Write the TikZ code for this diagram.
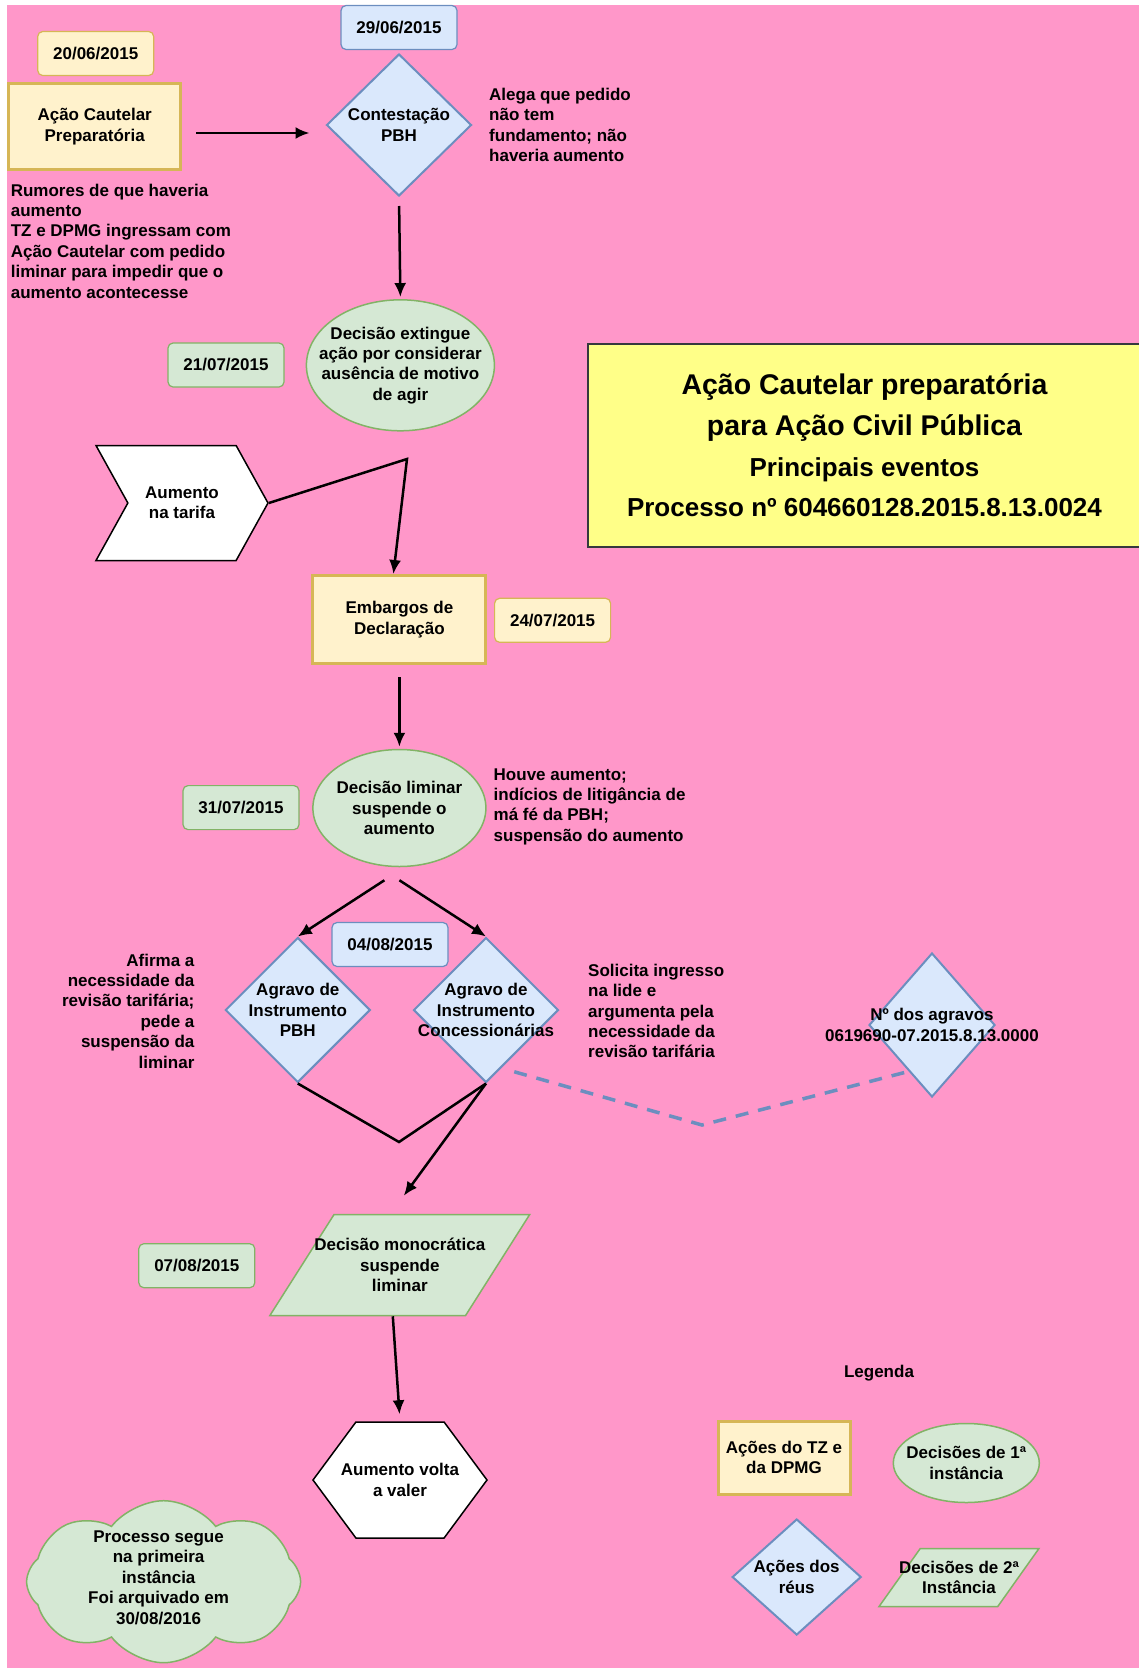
\documentclass[tikz,border=0pt]{standalone}
\usepackage{fontspec}
\setmainfont{Liberation Sans}
\usepackage{tikz}
\usetikzlibrary{arrows.meta}
\usetikzlibrary{shapes.geometric, shapes.symbols}
\tikzset{>={Latex[width=12pt,length=14pt]}}

\definecolor{fundo}{HTML}{FF97C9}
\definecolor{amarelo}{HTML}{FFF2CC}
\definecolor{ouro}{HTML}{D6B656}
\definecolor{azul}{HTML}{DAE8FC}
\definecolor{azulborda}{HTML}{6C8EBF}
\definecolor{verde}{HTML}{D5E8D4}
\definecolor{verdeborda}{HTML}{82B366}
\definecolor{titulo}{HTML}{FFFF88}
\definecolor{cinza}{HTML}{36393D}

\newcommand{\txtfont}{\bfseries\fontsize{17}{20.4}\selectfont}

\tikzset{
  txt/.style={font=\txtfont, align=center, inner sep=0pt},
  nota/.style={font=\txtfont, inner sep=0pt},
  data/.style={rectangle, rounded corners=5pt, line width=1.2pt, minimum width=116pt, minimum height=44pt, font=\txtfont},
  datay/.style={data, draw=ouro, fill=amarelo},
  datab/.style={data, draw=azulborda, fill=azul},
  datag/.style={data, draw=verdeborda, fill=verde},
  tz/.style={rectangle, draw=ouro, fill=amarelo, line width=3pt, font=\txtfont, align=center},
  reu/.style={diamond, draw=azulborda, fill=azul, line width=2pt, inner sep=1pt},
  dec1/.style={ellipse, draw=verdeborda, fill=verde, line width=1.5pt, inner sep=1pt},
  dec2/.style={trapezium, trapezium stretches=true, draw=verdeborda, fill=verde, line width=1.5pt, inner sep=3pt},
  evento/.style={signal, draw=black, fill=white, line width=1.5pt, inner sep=2pt},
  seta/.style={->, line width=2.5pt},
  linha/.style={line width=2.5pt},
  tracejado/.style={draw=azulborda, line width=3.5pt, dash pattern=on 13pt off 10pt},
}

\begin{document}
\begin{tikzpicture}[x=1pt,y=-1pt]
  \useasboundingbox (0,0) rectangle (1139,1668);
  \fill[fundo] (6.5,5) rectangle (1139,1668);

  % datas
  \node[datay] (d1) at (95.7,53.5) {20/06/2015};
  \node[datab] (d2) at (399,27.5) {29/06/2015};
  \node[datag] (d3) at (226,365) {21/07/2015};
  \node[datay] (d4) at (552.6,620.3) {24/07/2015};
  \node[datag] (d5) at (241,807.6) {31/07/2015};
  \node[datab] (d6) at (390,944.5) {04/08/2015};
  \node[datag] (d7) at (196.8,1265.7) {07/08/2015};

  % eventos
  \node[tz, minimum width=172pt, minimum height=86pt] (acao) at (94.7,126.5) {Ação Cautelar\\Preparatória};
  \node[reu, minimum width=145pt, minimum height=142pt, label={[txt]center:Contestação\\PBH}] (contest) at (399,125) {};
  \node[dec1, minimum width=188pt, minimum height=131pt, label={[txt]center:Decisão extingue\\ação por considerar\\ausência de motivo\\de agir}] (extingue) at (400.4,365.3) {};
  \node[evento, signal from=west, signal to=east, signal pointer angle=122, minimum width=172pt, minimum height=115pt, label={[txt]center:Aumento\\na tarifa}] (aumento) at (182,503) {};
  \node[tz, minimum width=173pt, minimum height=88pt] (embargos) at (399.4,619.5) {Embargos de\\Declaração};
  \node[dec1, minimum width=173pt, minimum height=117pt, label={[txt]center:Decisão liminar\\suspende o\\aumento}] (liminar) at (399.4,808) {};
  \node[reu, minimum width=145pt, minimum height=145pt, label={[txt]center:Agravo de\\Instrumento\\PBH}] (agpbh) at (297.8,1010) {};
  \node[reu, minimum width=145pt, minimum height=145pt, label={[txt]center:Agravo de\\Instrumento\\Concessionárias}] (agconc) at (486,1010) {};
  \node[reu, minimum width=126pt, minimum height=144pt, label={[txt]center:Nº dos agravos\\0619690-07.2015.8.13.0000}] (agnum) at (932,1025) {};
  \node[dec2, trapezium left angle=64, trapezium right angle=116, minimum width=260pt, minimum height=101pt, label={[txt]center:Decisão monocrática\\suspende\\liminar}] (mono) at (399.8,1265) {};
  \node[evento, signal to=east and west, signal from=nowhere, signal pointer angle=107, minimum width=174pt, minimum height=116pt, label={[txt]center:Aumento volta\\a valer}] (volta) at (400,1480) {};
  \node[cloud, cloud puffs=8, cloud puff arc=105, cloud ignores aspect, draw=verdeborda, fill=verde, line width=1.5pt, inner sep=3pt, minimum width=274pt, minimum height=162pt, label={[txt, xshift=-5pt, yshift=4pt]center:Processo segue\\na primeira\\instância\\Foi arquivado em\\30/08/2016}] (nuvem) at (163.6,1581.7) {};

  % titulo
  \node[rectangle, draw=cinza, fill=titulo, line width=1.5pt, minimum width=553pt, minimum height=203pt, align=center, font=\bfseries\fontsize{26}{40.7}\selectfont] (titulo) at (864.5,445.5) {{\fontsize{28.5}{40.7}\selectfont Ação Cautelar preparatória}\\{\fontsize{28.5}{40.7}\selectfont para Ação Civil Pública}\\Principais eventos\\Processo nº 604660128.2015.8.13.0024};

  % textos
  \node[nota, anchor=west, align=left] (alega) at (489,125) {Alega que pedido\\não tem\\fundamento; não\\haveria aumento};
  \node[nota, anchor=west, align=left] (rumores) at (10.6,241) {Rumores de que haveria\\aumento\\TZ e DPMG ingressam com\\Ação Cautelar com pedido\\liminar para impedir que o\\aumento acontecesse};
  \node[nota, anchor=west, align=left] (houve) at (493.5,806.7) {Houve aumento;\\indícios de litigância de\\má fé da PBH;\\suspensão do aumento};
  \node[nota, anchor=east, align=right] (afirma) at (194.6,1011) {Afirma a\\necessidade da\\revisão tarifária;\\pede a\\suspensão da\\liminar};
  \node[nota, anchor=west, align=left] (solicita) at (588,1011) {Solicita ingresso\\na lide e\\argumenta pela\\necessidade da\\revisão tarifária};

  % legenda
  \node[nota] (legenda) at (879,1373.3) {Legenda};
  \node[tz, minimum width=132pt, minimum height=73pt] (legtz) at (784,1457.7) {Ações do TZ e\\da DPMG};
  \node[dec1, minimum width=146pt, minimum height=79pt, label={[txt]center:Decisões de 1ª\\instância}] (legd1) at (966.3,1463) {};
  \node[reu, minimum width=129pt, minimum height=116pt, label={[txt]center:Ações dos\\réus}] (legreu) at (796.7,1577) {};
  \node[dec2, trapezium left angle=62, trapezium right angle=118, minimum width=160pt, minimum height=58pt, label={[txt]center:Decisões de 2ª\\Instância}] (legd2) at (959,1577.5) {};

  % ligacoes
  \coordinate (kink) at (407,459);
  \coordinate (vbase) at (399,1142);
  \coordinate (dmeio) at (702,1125);
  \draw[seta, shorten <=14pt, shorten >=16pt] ([yshift=-6.5pt]acao.east) -- ([yshift=-8pt]contest.west);
  \draw[seta, shorten <=9pt, shorten >=2pt] (contest.south) -- (extingue.north);
  \draw[seta] (aumento.east) -- (kink) -- ([xshift=-6pt]embargos.north);
  \draw[seta, shorten <=12pt, shorten >=2pt] (embargos.south) -- (liminar.north);
  \draw[seta] ([shift={(-15pt,-13pt)}]liminar.south) -- (agpbh.north);
  \draw[seta] ([yshift=-13pt]liminar.south) -- (agconc.north);
  \draw[linha] (agpbh.south) -- (vbase) -- (agconc.south);
  \draw[seta] (agconc.south) -- ([shift={(4pt,18pt)}]mono.north);
  \draw[tracejado] ([shift={(-8.5pt,-25pt)}]agconc.south east) -- (dmeio) -- ([shift={(4.5pt,-11pt)}]agnum.south west);
  \draw[seta, shorten >=7pt] ([xshift=-7pt]mono.south) -- (volta.north);
\end{tikzpicture}
\end{document}
